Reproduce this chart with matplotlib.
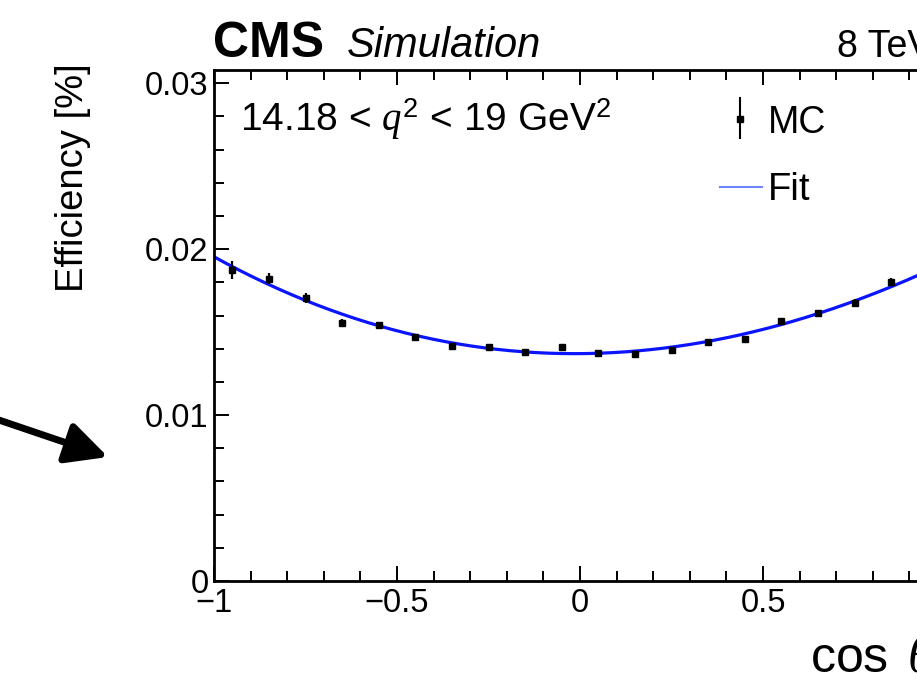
import matplotlib
matplotlib.use('Agg')
import matplotlib.pyplot as plt
from matplotlib.ticker import MultipleLocator, FixedFormatter, FixedLocator
import numpy as np

plt.rcParams['font.family'] = ['Liberation Sans', 'DejaVu Sans']
plt.rcParams['mathtext.fontset'] = 'custom'
plt.rcParams['mathtext.rm'] = 'Liberation Sans'
plt.rcParams['mathtext.it'] = 'Liberation Serif:italic'
plt.rcParams['axes.unicode_minus'] = True

# --- MC efficiency per cos(theta_K) bin (14.18 < q2 < 19 GeV2) ---
cos_bins = [-0.95, -0.85, -0.75, -0.65, -0.55, -0.45, -0.35, -0.25, -0.15, -0.05,
            0.05, 0.15, 0.25, 0.35, 0.45, 0.55, 0.65, 0.75, 0.85]
eff_mc = [0.01874, 0.01823, 0.01708, 0.01557, 0.01543, 0.01469, 0.01419, 0.01413,
          0.01383, 0.01409, 0.01377, 0.01369, 0.01393, 0.01443, 0.01459, 0.01567,
          0.01613, 0.01677, 0.01804]
eff_err = [0.00055, 0.00035, 0.00030, 0.00025, 0.00020, 0.00020, 0.00015, 0.00015,
           0.00015, 0.00015, 0.00015, 0.00015, 0.00015, 0.00015, 0.00020, 0.00020,
           0.00020, 0.00025, 0.00025]

# fit curve sampled along cos(theta_K)
fit_x = [-1.0, -0.95, -0.85, -0.75, -0.65, -0.55, -0.45, -0.35, -0.15, 0.05,
         0.25, 0.35, 0.45, 0.55, 0.65, 0.75, 0.85, 0.936]
fit_y = [0.01948, 0.01894, 0.01804, 0.01694, 0.01600, 0.01527, 0.01473, 0.01443,
         0.01390, 0.01383, 0.01400, 0.01445, 0.01481, 0.01541, 0.01611, 0.01701,
         0.01781, 0.01845]

xticks = [-1, -0.5, 0, 0.5, 1]
xtick_labels = ['\u22121', '\u22120.5', '0', '0.5', '1']
yticks = [0, 0.01, 0.02, 0.03]
ytick_labels = ['0', '0.01', '0.02', '0.03']

W, H = 917, 681
fig = plt.figure(figsize=(W / 100, H / 100), dpi=100)
# axes box in pixels: x 214 -> 946, y 70 -> 581 (top)
ax = fig.add_axes([214 / W, (H - 581) / H, 732 / W, 511 / H])

coef = np.polyfit(fit_x, fit_y, 4)
xs = np.linspace(-1, 1, 400)
ax.plot(xs, np.polyval(coef, xs), color='#0a14ff', lw=2.3, zorder=2)

ax.errorbar(cos_bins, eff_mc, yerr=eff_err, fmt='s', color='black', ms=4.8,
            elinewidth=1.6, capsize=0, zorder=3)

ax.set_xlim(-1, 1)
ax.set_ylim(0, 0.0308)
ax.xaxis.set_major_locator(FixedLocator(xticks))
ax.xaxis.set_major_formatter(FixedFormatter(xtick_labels))
ax.xaxis.set_minor_locator(MultipleLocator(0.1))
ax.yaxis.set_major_locator(FixedLocator(yticks))
ax.yaxis.set_major_formatter(FixedFormatter(ytick_labels))
ax.yaxis.set_minor_locator(MultipleLocator(0.002))
ax.tick_params(which='both', direction='in', top=True, right=True, width=1.4,
               labelsize=23.5, colors='black')
ax.tick_params(which='major', length=11)
ax.tick_params(which='minor', length=7)
ax.tick_params(axis='x', pad=5)
ax.tick_params(axis='y', pad=4)
for s in ax.spines.values():
    s.set_linewidth(2.0)

ax.set_ylabel('Efficiency [%]', fontsize=27.5)
ax.yaxis.set_label_coords(-0.168, 0.79)

# header
fig.text(213 / W, (H - 57) / H, 'CMS', fontsize=36, fontweight='bold', va='baseline')
fig.text(347 / W, (H - 57) / H, 'Simulation', fontsize=30, style='italic', va='baseline')
fig.text(837 / W, (H - 57) / H, '8 TeV', fontsize=27, va='baseline')

# x title
fig.text(810 / W, (H - 672) / H, r'cos $\,\theta_{K}$', fontsize=36, va='baseline')

# bin label
ax.text(0.036, 0.881, r'14.18 < $q^{2}$ < 19 GeV$^{2}$', transform=ax.transAxes,
        fontsize=28, va='baseline')

# legend
ax.plot([0.7186, 0.7186], [0.867, 0.945], transform=ax.transAxes, color='black', lw=1.5)
ax.plot([0.7186], [0.904], 's', transform=ax.transAxes, color='black', ms=3.8)
ax.text(0.7568, 0.8767, 'MC', transform=ax.transAxes, fontsize=27, va='baseline')
ax.plot([0.6915, 0.7486], [0.771, 0.771], transform=ax.transAxes, color='#6f86ff', lw=1.5)
ax.text(0.7566, 0.7456, 'Fit', transform=ax.transAxes, fontsize=27.5, va='baseline')

# pointer arrow
ax.annotate('', xy=(108, H - 457), xycoords='figure pixels',
            xytext=(-10, H - 417), textcoords='figure pixels',
            arrowprops=dict(arrowstyle='-|>,head_length=0.9,head_width=0.45',
                            lw=5, color='black', mutation_scale=28,
                            shrinkA=0, shrinkB=0))

fig.savefig('out.png', dpi=100)
